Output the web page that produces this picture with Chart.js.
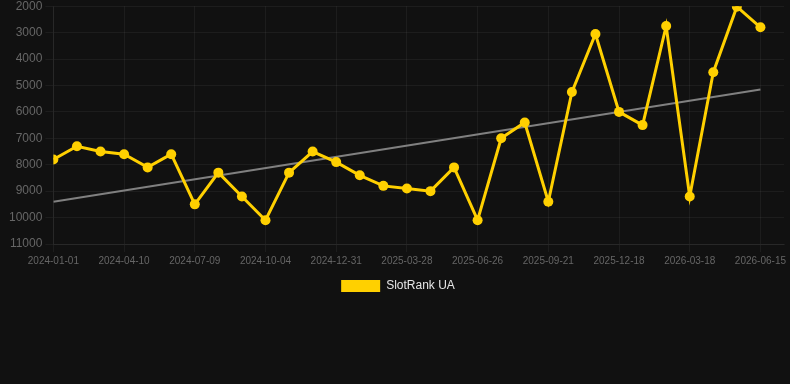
<!DOCTYPE html>
<html>
<head>
<meta charset="utf-8">
<script src="https://cdn.jsdelivr.net/npm/chart.js@4/dist/chart.umd.min.js"></script>
<style>
  html, body { margin: 0; padding: 0; background: #111111; overflow: hidden; }
  #wrap { width: 790px; height: 306px; position: relative; margin-top: -4px; }
</style>
</head>
<body>
<div id="wrap"><canvas id="rankChart"></canvas></div>
<script>
  // visible tick labels (one every 3 points)
  const tickLabels = ["2024-01-01","2024-04-10","2024-07-09","2024-10-04","2024-12-31",
    "2025-03-28","2025-06-26","2025-09-21","2025-12-18","2026-03-18","2026-06-15"];

  // rank values
  const rankValues = [7800,7300,7500,7600,8100,7600,9500,8300,9200,10100,
    8300,7500,7900,8400,8800,8900,9000,8100,10100,7000,
    6400,9400,5250,3050,6000,6500,2750,9200,4500,2020,2800];

  // trend line end points
  const trendValues = [9400, 5150];

  const yTicks = { min: 2000, max: 11000, step: 1000 };

  const rankPoints = rankValues.map((v, i) => ({ x: i, y: v }));
  const trendPoints = [
    { x: 0, y: trendValues[0] },
    { x: rankValues.length - 1, y: trendValues[1] }
  ];

  Chart.defaults.font.family = "'Liberation Sans', Arial, sans-serif";

  const ctx = document.getElementById("rankChart");

  new Chart(ctx, {
    type: "line",
    data: {
      datasets: [
        {
          label: "SlotRank UA",
          data: rankPoints,
          borderColor: "#ffd000",
          backgroundColor: "#ffd000",
          borderWidth: 3,
          pointRadius: 5,
          pointHoverRadius: 6,
          pointBorderWidth: 0,
          tension: 0
        },
        {
          label: "trend",
          data: trendPoints,
          borderColor: "#808080",
          borderWidth: 2,
          pointRadius: 0,
          tension: 0
        }
      ]
    },
    options: {
      responsive: true,
      maintainAspectRatio: false,
      animation: false,
      layout: { padding: { left: 6, right: 0, top: 0, bottom: 0 } },
      plugins: {
        legend: {
          position: "bottom",
          labels: {
            color: "#e6e6e6",
            font: { size: 12 },
            boxWidth: 39,
            boxHeight: 12,
            generateLabels: chart =>
              Chart.defaults.plugins.legend.labels.generateLabels(chart)
                .filter(item => item.datasetIndex === 0)
                .map(item => ({ ...item, lineWidth: 0 }))
          }
        },
        tooltip: { enabled: false }
      },
      scales: {
        x: {
          type: "linear",
          min: 0,
          max: 31,
          grid: { color: "rgba(255,255,255,0.05)" },
          border: { color: "rgba(255,255,255,0.05)" },
          ticks: {
            stepSize: 3,
            includeBounds: false,
            color: "#666666",
            font: { size: 10 },
            maxRotation: 0,
            callback: v => tickLabels[v / 3] || ""
          }
        },
        y: {
          reverse: true,
          min: yTicks.min,
          max: yTicks.max,
          grid: { color: "rgba(255,255,255,0.05)" },
          border: { color: "rgba(255,255,255,0.05)" },
          ticks: {
            stepSize: yTicks.step,
            color: "#666666",
            font: { size: 12 },
            callback: v => String(v)
          }
        }
      }
    }
  });
</script>
</body>
</html>
